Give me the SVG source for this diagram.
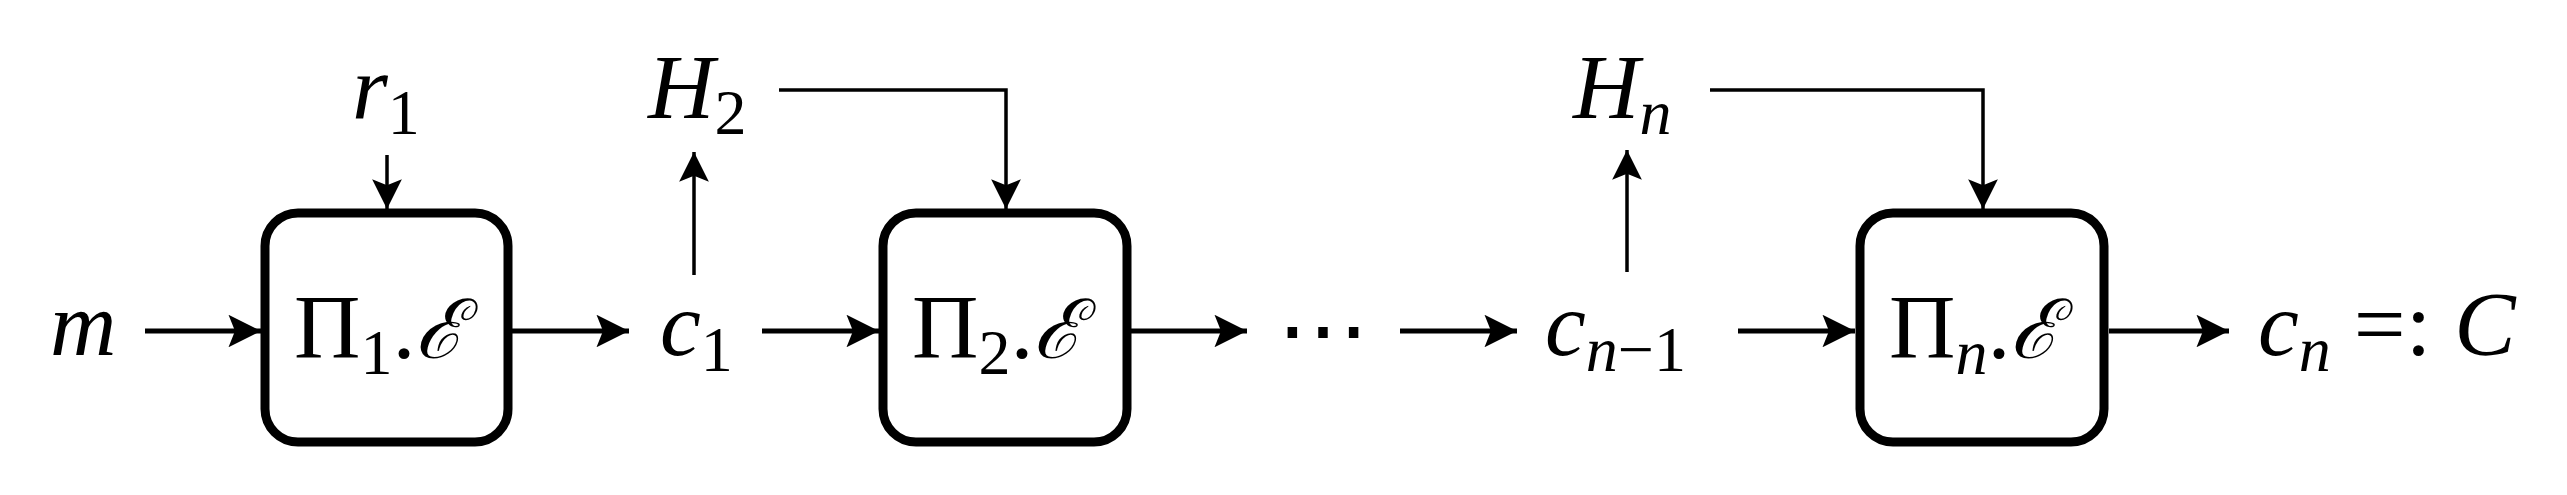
<svg xmlns="http://www.w3.org/2000/svg" width="2567" height="495" viewBox="0 0 2567 495">
<style>
.t{font-family:"Liberation Serif","DejaVu Serif",serif;font-size:92px;fill:#000}
.i{font-style:italic}
.s{font-size:64px}
.e{font-size:82px}
.box{fill:none;stroke:#000;stroke-width:9}
.c{fill:none;stroke:#000;stroke-width:5}
.v{stroke-width:3.5}
</style>
<defs>
<marker id="a" viewBox="0 0 10 10" refX="10" refY="5" markerWidth="9" markerHeight="6.5" markerUnits="strokeWidth" orient="auto">
<path d="M0,0 L10,5 L0,10 L2,5 Z" fill="#000"/>
</marker>
<marker id="b" viewBox="0 0 10 10" refX="10" refY="5" markerWidth="12" markerHeight="8.5" markerUnits="strokeWidth" orient="auto">
<path d="M0,0 L10,5 L0,10 L2,5 Z" fill="#000"/>
</marker>
</defs>
<g id="connectors">
<path class="c" d="M145,331 H261" marker-end="url(#a)"/>
<path class="c" d="M512,331 H629" marker-end="url(#a)"/>
<path class="c" d="M762,331 H879" marker-end="url(#a)"/>
<path class="c" d="M1131,331 H1247" marker-end="url(#a)"/>
<path class="c" d="M1400,331 H1517" marker-end="url(#a)"/>
<path class="c" d="M1738,331 H1855" marker-end="url(#a)"/>
<path class="c" d="M2109,331 H2229" marker-end="url(#a)"/>
<path class="c v" d="M387,155 V209" marker-end="url(#b)"/>
<path class="c v" d="M694,275 V152" marker-end="url(#b)"/>
<path class="c v" d="M779,90 H1006 V209" marker-end="url(#b)"/>
<path class="c v" d="M1627,272 V150" marker-end="url(#b)"/>
<path class="c v" d="M1710,90 H1983 V209" marker-end="url(#b)"/>
</g>
<g id="box1"><rect class="box" x="265" y="213" width="243" height="229" rx="33"/>
<text class="t" x="294" y="358">Π<tspan class="s" dy="16">1</tspan><tspan dy="-16">.</tspan><tspan class="i e">ℰ</tspan></text></g>
<g id="box2"><rect class="box" x="883" y="213" width="244" height="229" rx="33"/>
<text class="t" x="912" y="358">Π<tspan class="s" dy="16">2</tspan><tspan dy="-16">.</tspan><tspan class="i e">ℰ</tspan></text></g>
<g id="boxn"><rect class="box" x="1860" y="213" width="244" height="229" rx="33"/>
<text class="t" x="1889" y="358">Π<tspan class="s i" dy="16">n</tspan><tspan dy="-16">.</tspan><tspan class="i e">ℰ</tspan></text></g>
<g id="m"><text class="t i" x="50" y="355">m</text></g>
<g id="r1"><text class="t i" x="352" y="118">r<tspan class="s" font-style="normal" dy="16">1</tspan></text></g>
<g id="c1"><text class="t i" x="660" y="355">c<tspan class="s" font-style="normal" dy="16">1</tspan></text></g>
<g id="H2"><text class="t i" x="648" y="118">H<tspan class="s" font-style="normal" dy="16">2</tspan></text></g>
<g id="dots"><text class="t" x="1277" y="362">⋯</text></g>
<g id="cn1"><text class="t i" x="1545" y="355">c<tspan class="s" dy="16">n</tspan><tspan class="s" font-style="normal">−1</tspan></text></g>
<g id="Hn"><text class="t i" x="1573" y="118">H<tspan class="s" dy="16">n</tspan></text></g>
<g id="cn"><text class="t i" x="2258" y="355">c<tspan class="s" dy="16">n</tspan><tspan dy="-16" font-style="normal"> =: </tspan>C</text></g>
</svg>
